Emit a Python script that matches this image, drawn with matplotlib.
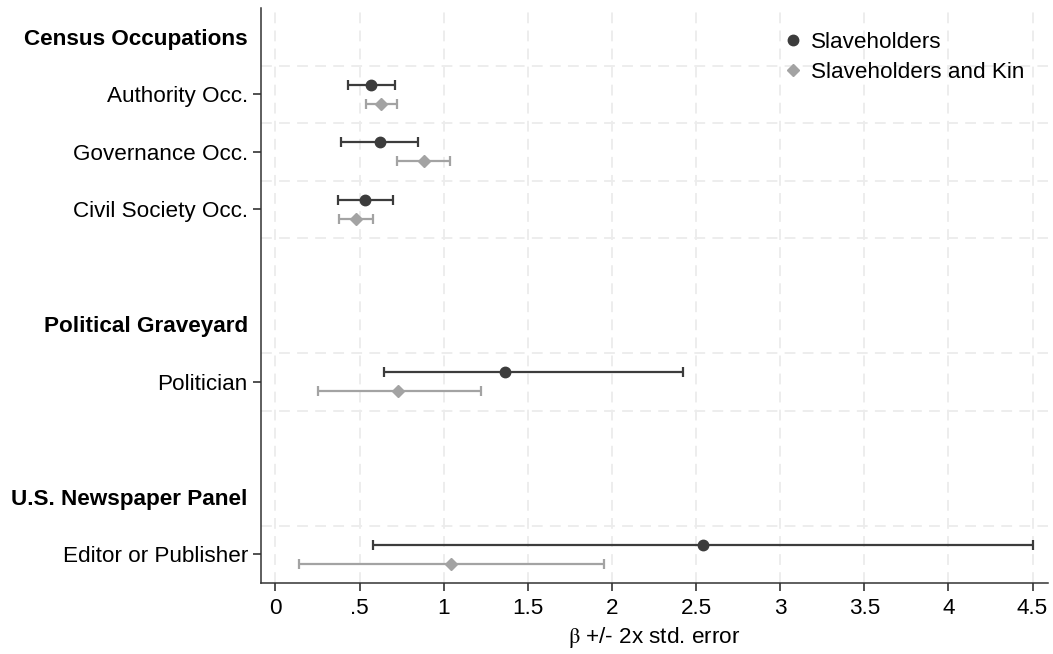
import matplotlib
matplotlib.use("Agg")
import matplotlib.pyplot as plt
from matplotlib.lines import Line2D
import numpy as np

plt.rcParams['font.family'] = ['Liberation Sans', 'DejaVu Sans']
plt.rcParams['mathtext.fontset'] = 'stix'

# Rows (top to bottom); headers are bold and have no tick
row_labels = ["Census Occupations", "Authority Occ.", "Governance Occ.", "Civil Society Occ.", "",
              "Political Graveyard", "Politician", "", "U.S. Newspaper Panel", "Editor or Publisher"]
header_rows = [0, 5, 8]
item_rows = [1, 2, 3, 6, 9]

# Slaveholders
sh_est = [0.567, 0.62, 0.53, 1.364, 2.54]
sh_lo = [0.43, 0.39, 0.37, 0.645, 0.58]
sh_hi = [0.71, 0.85, 0.70, 2.42, 4.50]
# Slaveholders and Kin
kin_est = [0.63, 0.88, 0.48, 0.73, 1.043]
kin_lo = [0.54, 0.72, 0.38, 0.25, 0.14]
kin_hi = [0.72, 1.04, 0.58, 1.22, 1.95]

xticks = [0, 0.5, 1, 1.5, 2, 2.5, 3, 3.5, 4, 4.5]
xticklabels = ["0", ".5", "1", "1.5", "2", "2.5", "3", "3.5", "4", "4.5"]

dark = "#3c3c3c"
light = "#a3a3a3"
FS = 16.2

fig = plt.figure(figsize=(10.53, 6.54), dpi=100)
ax = fig.add_axes([261 / 1053, 1 - 583 / 654, (1048 - 261) / 1053, (583 - 8) / 654])

off = 0.165
y_items = np.array(item_rows, dtype=float)
sh_est_a = np.array(sh_est); kin_est_a = np.array(kin_est)
ax.errorbar(sh_est_a, y_items - off,
            xerr=[sh_est_a - np.array(sh_lo), np.array(sh_hi) - sh_est_a],
            fmt='o', color=dark, ms=7.5, elinewidth=1.6, capsize=3.5, capthick=1.6, zorder=3)
ax.errorbar(kin_est_a, y_items + off,
            xerr=[kin_est_a - np.array(kin_lo), np.array(kin_hi) - kin_est_a],
            fmt='D', color=light, ms=6.5, elinewidth=1.6, capsize=3.5, capthick=1.6, zorder=3)

ax.set_xlim(-0.086, 4.592)
ax.set_ylim(9.5, -0.5)

# grid
for x in xticks:
    ax.axvline(x, color="#ececec", lw=1.3, ls=(0, (6, 4)), zorder=0)
for yv in [0.5, 1.5, 2.5, 3.5, 5.5, 6.5, 8.5]:
    ax.axhline(yv, color="#ececec", lw=1.3, ls=(0, (6, 4)), zorder=0)

ax.set_xticks(xticks)
ax.set_xticklabels(xticklabels, fontsize=FS)
ax.set_yticks(range(len(row_labels)))
ax.set_yticklabels(row_labels, fontsize=FS)
for i, t in enumerate(ax.yaxis.get_major_ticks()):
    if i not in item_rows:
        t.tick1line.set_visible(False)
for i, lab in enumerate(ax.get_yticklabels()):
    if i in header_rows:
        lab.set_fontweight('bold')
ax.tick_params(axis='both', length=6, width=1.1, color='#222222')
ax.tick_params(axis='x', pad=5)
ax.tick_params(axis='y', pad=3.5)

for s in ['top', 'right']:
    ax.spines[s].set_visible(False)
for s in ['left', 'bottom']:
    ax.spines[s].set_linewidth(1.1)
    ax.spines[s].set_color('#333333')

ax.set_xlabel(r"$\mathrm{\beta}$ +/- 2x std. error", fontsize=FS, labelpad=4)

handles = [Line2D([], [], marker='o', color=dark, ls='none', ms=7.5),
           Line2D([], [], marker='D', color=light, ls='none', ms=6)]
ax.legend(handles, ["Slaveholders", "Slaveholders and Kin"], loc='upper left',
          bbox_to_anchor=(0.662, 0.959), frameon=False, fontsize=FS,
          borderpad=0, borderaxespad=0,
          handletextpad=0.3, labelspacing=0.4, handlelength=1.0)

fig.savefig("out.png", dpi=100)
